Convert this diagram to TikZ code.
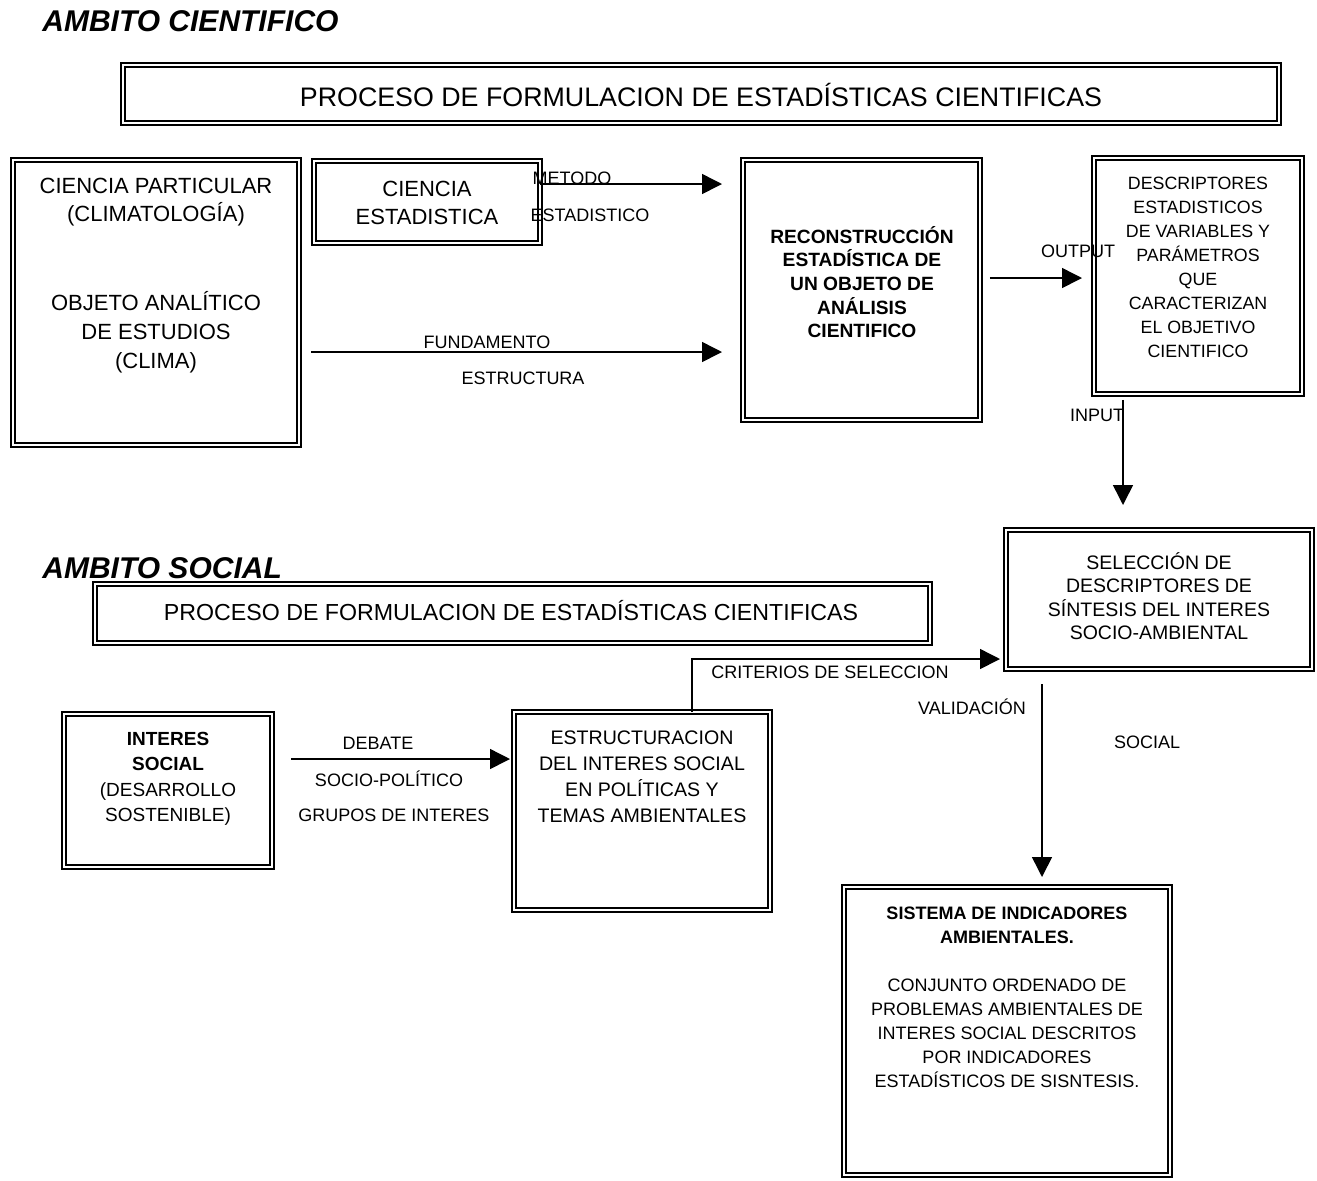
\documentclass[tikz,border=0pt]{standalone}
\usepackage{fontspec}
\setmainfont{Liberation Sans}
\usetikzlibrary{arrows.meta,fit}
\begin{document}
\begin{tikzpicture}[x=0.5pt,y=-0.5pt,
  dbox/.style={draw,line width=1.15pt,double,double distance=0.9pt,inner sep=0pt,outer sep=0pt},
  arr/.style={line width=0.75pt,-{Triangle[length=10pt,width=10pt]}},
  lbl/.style={inner sep=0pt,font=\fontsize{9}{11}\selectfont},
  btxt/.style={align=center,inner sep=0pt},
  sect/.style={inner sep=0pt,anchor=base west,font=\bfseries\itshape\fontsize{15}{17}\selectfont}
]
\useasboundingbox (0,0) rectangle (1317,1180);

% section titles
\node[sect] (amc) at (42,31) {AMBITO CIENTIFICO};
\node[sect] (ams) at (42,578) {AMBITO SOCIAL};

% boxes (path inset 3.2px from the outer edge)
\node[dbox,fit={(123.2,65.2) (1278.8,122.8)}] (t1) {};
\node[dbox,fit={(13.2,160.2) (298.8,444.8)}] (cp) {};
\node[dbox,fit={(314.2,161.2) (539.8,242.8)}] (ce) {};
\node[dbox,fit={(743.2,160.2) (979.8,419.8)}] (rec) {};
\node[dbox,fit={(1094.2,158.2) (1301.8,393.8)}] (desc) {};
\node[dbox,fit={(1006.2,530.2) (1311.8,668.8)}] (sel) {};
\node[dbox,fit={(95.2,584.2) (929.8,642.8)}] (t2) {};
\node[dbox,fit={(64.2,714.2) (271.8,866.8)}] (is) {};
\node[dbox,fit={(514.2,712.2) (769.8,909.8)}] (est) {};
\node[dbox,fit={(844.2,887.2) (1169.8,1174.8)}] (sis) {};

% box texts
\node[btxt,font=\fontsize{13.4}{16}\selectfont] (t1t) at (701,95) {PROCESO DE FORMULACION DE ESTADÍSTICAS CIENTIFICAS};
\node[btxt,font=\fontsize{11.6}{14}\selectfont] (t2t) at (511,611) {PROCESO DE FORMULACION DE ESTADÍSTICAS CIENTIFICAS};
\node[btxt,font=\fontsize{11}{14.25}\selectfont] (cpt1) at (156,202) {CIENCIA PARTICULAR\\(CLIMATOLOGÍA)};
\node[btxt,font=\fontsize{11}{14.5}\selectfont] (cpt2) at (156,332) {OBJETO ANALÍTICO\\DE ESTUDIOS\\(CLIMA)};
\node[btxt,font=\fontsize{11}{14}\selectfont] (cet) at (427,203) {CIENCIA\\ESTADISTICA};
\node[btxt,font=\bfseries\fontsize{9.6}{11.85}\selectfont] (rect) at (862,282) {RECONSTRUCCIÓN\\ESTADÍSTICA DE\\UN OBJETO DE\\ANÁLISIS\\CIENTIFICO};
\node[btxt,font=\fontsize{8.9}{12}\selectfont] (desct) at (1198,267) {DESCRIPTORES\\ESTADISTICOS\\DE VARIABLES Y\\PARÁMETROS\\QUE\\CARACTERIZAN\\EL OBJETIVO\\CIENTIFICO};
\node[btxt,font=\fontsize{9.75}{11.75}\selectfont] (selt) at (1159,596) {SELECCIÓN DE\\DESCRIPTORES DE\\SÍNTESIS DEL INTERES\\SOCIO-AMBIENTAL};
\node[btxt,font=\fontsize{9.5}{12.75}\selectfont] (ist) at (168,779) {\textbf{INTERES}\\\textbf{SOCIAL}\\(DESARROLLO\\SOSTENIBLE)};
\node[btxt,font=\fontsize{9.8}{13}\selectfont] (estt) at (642,777) {ESTRUCTURACION\\DEL INTERES SOCIAL\\EN POLÍTICAS Y\\TEMAS AMBIENTALES};
\node[btxt,font=\fontsize{9}{12}\selectfont] (sist) at (1007,997) {\textbf{SISTEMA DE INDICADORES}\\\textbf{AMBIENTALES.}\\[12pt]CONJUNTO ORDENADO DE\\PROBLEMAS AMBIENTALES DE\\INTERES SOCIAL DESCRITOS\\POR INDICADORES\\ESTADÍSTICOS DE SISNTESIS.};

% connector labels
\node[lbl] (lmet) at (572,178) {METODO};
\node[lbl] (lest) at (590,215) {ESTADISTICO};
\node[lbl] (lfun) at (487,342) {FUNDAMENTO};
\node[lbl] (lstr) at (523,378) {ESTRUCTURA};
\node[lbl] (lout) at (1078,251) {OUTPUT};
\node[lbl] (linp) at (1097,415) {INPUT};
\node[lbl] (ldeb) at (378,743) {DEBATE};
\node[lbl] (lsoc) at (389,779) {SOCIO-POLÍTICO};
\node[lbl] (lgru) at (394,815) {GRUPOS DE INTERES};
\node[lbl] (lcri) at (830,672) {CRITERIOS DE SELECCION};
\node[lbl] (lval) at (972,707) {VALIDACIÓN};
\node[lbl] (lsol) at (1147,742) {SOCIAL};

% reference coordinates for connector rows/columns
\coordinate (ymet) at (0,184);
\coordinate (yfun) at (0,352);
\coordinate (yout) at (0,278);
\coordinate (xinp) at (1123,0);
\coordinate (ydeb) at (0,759);
\coordinate (xcri) at (692,0);
\coordinate (ycri) at (0,659);
\coordinate (xval) at (1042,0);

% connectors
\draw[arr,shorten >=10.6pt] (ce.east |- ymet) -- (rec.west |- ymet);
\draw[arr,shorten <=6.2pt,shorten >=10.6pt] (cp.east |- yfun) -- (rec.west |- yfun);
\draw[arr,shorten <=5pt,shorten >=6.1pt] (rec.east |- yout) -- (desc.west |- yout);
\draw[arr,shorten <=3pt,shorten >=12.6pt] (desc.south -| xinp) -- (sel.north -| xinp);
\draw[arr,shorten <=9.6pt,shorten >=2.1pt] (is.east |- ydeb) -- (est.west |- ydeb);
\draw[arr,shorten >=3.1pt] (est.north -| xcri) |- (sel.west |- ycri);
\draw[arr,shorten <=7.6pt,shorten >=5.1pt] (sel.south -| xval) -- (sis.north -| xval);
\end{tikzpicture}
\end{document}
